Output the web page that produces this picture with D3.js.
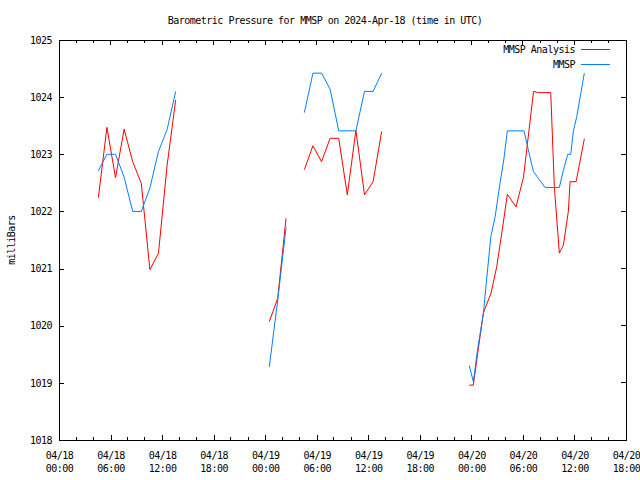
<!DOCTYPE html>
<html>
<head>
<meta charset="utf-8">
<script src="https://cdn.jsdelivr.net/npm/d3@7"></script>
<style>
  html, body { margin: 0; padding: 0; background: #fff; }
  svg { display: block; }
  text { font-family: "DejaVu Sans Mono", "Liberation Mono", monospace; font-size: 10px; letter-spacing: -0.5px; fill: #000; }
</style>
</head>
<body>
<svg id="chart" width="640" height="480"></svg>
<script>
// ---- data (hours since 2024-04-18 00:00 UTC; null = gap) ----
const analysisHours = [
  4.58, 5.58, 6.58, 7.58, 8.58, 9.58, 10.58, 11.58, 12.58, 13.58,
  19.0,
  24.48, 25.46, 26.43,
  27.5,
  28.56, 29.56, 30.56, 31.56, 32.56, 33.56, 34.56, 35.56, 36.56, 37.56,
  42.0,
  47.76, 48.23, 48.74, 49.39, 50.29, 50.95, 51.54, 52.19, 53.20, 54.07,
  55.24, 55.80, 57.24, 57.66, 58.24, 58.71, 59.29, 59.49, 60.19, 61.15
];
const analysisValues = [
  1022.24, 1023.47, 1022.59, 1023.44, 1022.87, 1022.49, 1020.98, 1021.27, 1022.80, 1023.95,
  null,
  1020.07, 1020.48, 1021.88,
  null,
  1022.73, 1023.15, 1022.87, 1023.28, 1023.28, 1022.29, 1023.42, 1022.29, 1022.52, 1023.40,
  null,
  1018.96, 1018.96, 1019.52, 1020.22, 1020.57, 1021.03, 1021.62, 1022.30, 1022.08, 1022.60,
  1024.10, 1024.08, 1024.08, 1022.43, 1021.27, 1021.41, 1022.00, 1022.52, 1022.52, 1023.27
];

const obsHours = [
  4.58, 5.58, 6.58, 7.58, 8.58, 9.58, 10.58, 11.58, 12.58, 13.58,
  19.0,
  24.48, 25.46, 26.43,
  27.5,
  28.56, 29.56, 30.56, 31.56, 32.56, 33.56, 34.56, 35.56, 36.56, 37.56,
  42.0,
  47.76, 48.23, 48.74, 49.39, 49.77, 50.27, 50.77, 51.27, 51.77, 52.19,
  54.13, 54.63, 55.22, 55.80, 56.57, 58.24, 58.71, 59.22, 59.57, 59.87, 60.27, 61.15
];
const obsValues = [
  1022.71, 1023.00, 1023.00, 1022.60, 1022.00, 1022.00, 1022.41, 1023.05, 1023.43, 1024.10,
  null,
  1019.28, 1020.45, 1021.72,
  null,
  1023.73, 1024.42, 1024.42, 1024.14, 1023.41, 1023.41, 1023.41, 1024.10, 1024.10, 1024.42,
  null,
  1019.30, 1019.02, 1019.60, 1020.20, 1020.80, 1021.56, 1021.91, 1022.43, 1022.90, 1023.41,
  1023.41, 1023.08, 1022.70, 1022.58, 1022.42, 1022.42, 1022.72, 1023.00, 1023.00, 1023.40, 1023.66, 1024.42
];

const yTicks = [1018, 1019, 1020, 1021, 1022, 1023, 1024, 1025];
const seriesNames = ["MMSP Analysis", "MMSP"];
const seriesColors = ["#ff0000", "#0080ff"];
const titleText = "Barometric Pressure for MMSP on 2024-Apr-18 (time in UTC)";
const yLabelText = "milliBars";

// ---- layout ----
const svg = d3.select("#chart");
const L = 59, R = 626, T = 40, B = 440;
const startMs = Date.UTC(2024, 3, 18, 0, 0);
const toDate = h => new Date(startMs + h * 3600e3);

const x = d3.scaleUtc().domain([toDate(0), toDate(66)]).range([L, R]);
const y = d3.scaleLinear().domain([1018, 1025]).range([B, T]);

const majorX = d3.utcHour.every(6).range(toDate(0), toDate(66.01));
const minorX = d3.utcHour.every(2).range(toDate(0), toDate(66.01)).filter(d => d.getUTCHours() % 6 !== 0);
const fmtDay = d3.utcFormat("%m/%d"), fmtTime = d3.utcFormat("%H:%M");

const g = svg.append("g").attr("shape-rendering", "crispEdges");

// bottom axis
const xAxis = g.append("g").attr("transform", `translate(0,${B})`)
  .call(d3.axisBottom(x).tickValues(majorX).tickSizeInner(-5).tickSizeOuter(0).tickPadding(9).tickFormat(() => ""));
xAxis.select(".domain").remove();
xAxis.selectAll(".tick text").each(function(d) {
  const t = d3.select(this).attr("dy", null).attr("y", 0);
  t.append("tspan").attr("x", 0).attr("y", 19).text(fmtDay(d));
  t.append("tspan").attr("x", 0).attr("y", 32).text(fmtTime(d));
});
g.append("g").selectAll("line.minb").data(minorX).join("line")
  .attr("x1", d => x(d)).attr("x2", d => x(d)).attr("y1", B).attr("y2", B - 3).attr("stroke", "#000");
// top mirror ticks
g.append("g").selectAll("line").data(majorX).join("line")
  .attr("x1", d => x(d)).attr("x2", d => x(d)).attr("y1", T).attr("y2", T + 5).attr("stroke", "#000");
g.append("g").selectAll("line").data(minorX).join("line")
  .attr("x1", d => x(d)).attr("x2", d => x(d)).attr("y1", T).attr("y2", T + 3).attr("stroke", "#000");

// left axis
const yAxis = g.append("g").attr("transform", `translate(${L},0)`)
  .call(d3.axisLeft(y).tickValues(yTicks).tickSizeInner(-5).tickSizeOuter(0).tickPadding(7).tickFormat(d3.format("d")));
yAxis.select(".domain").remove();
// right mirror ticks
g.append("g").selectAll("line").data(yTicks).join("line")
  .attr("x1", R).attr("x2", R - 5).attr("y1", d => y(d)).attr("y2", d => y(d)).attr("stroke", "#000");

svg.selectAll(".tick line").attr("stroke", "#000");
svg.selectAll(".tick text").attr("fill", "#000").style("font-size", "10px");

// series
const mk = (hs, vs) => hs.map((h, i) => ({ t: toDate(h), v: vs[i] }));
const line = d3.line().defined(d => d.v != null).x(d => x(d.t)).y(d => y(d.v));
const series = [mk(analysisHours, analysisValues), mk(obsHours, obsValues)];
svg.append("g").selectAll("path").data(series).join("path")
  .attr("d", line).attr("fill", "none")
  .attr("stroke", (d, i) => seriesColors[i]).attr("stroke-width", 1);

// border
g.append("rect").attr("x", L).attr("y", T).attr("width", R - L).attr("height", B - T)
  .attr("fill", "none").attr("stroke", "#000");

// legend
const leg = svg.append("g");
seriesNames.forEach((n, i) => {
  const yy = 49 + i * 15;
  leg.append("text").attr("x", 575).attr("y", yy + 3.5).attr("text-anchor", "end").text(n);
  leg.append("line").attr("x1", 581).attr("x2", 610).attr("y1", yy).attr("y2", yy)
    .attr("stroke", seriesColors[i]).attr("shape-rendering", "crispEdges");
});

// title & y label
svg.append("text").attr("x", 325).attr("y", 23.5).attr("text-anchor", "middle").text(titleText);
svg.append("text").attr("transform", "translate(15,240) rotate(-90)").attr("text-anchor", "middle").text(yLabelText);
</script>
</body>
</html>
